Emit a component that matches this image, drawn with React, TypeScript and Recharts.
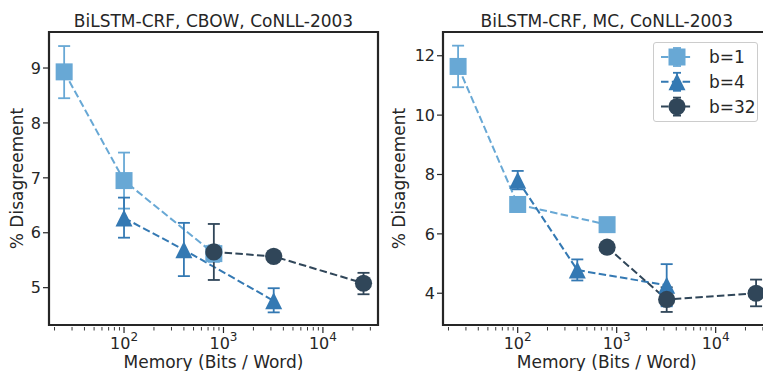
import React from "react";
import { ErrorBar, Legend, Line, LineChart, ReferenceArea, XAxis, YAxis } from "recharts";

// memory (bits per word) of each bit-width series
const bitsB1 = [25, 100, 800];
const bitsB4 = [100, 400, 3200];
const bitsB32 = [800, 3200, 25600];

// BiLSTM-CRF, CBOW
const cbowB1 = [8.93, 6.95, 5.62];
const cbowB1Lo = [8.45, 6.44, 5.47];
const cbowB1Hi = [9.4, 7.46, 5.77];
const cbowB4 = [6.27, 5.69, 4.76];
const cbowB4Lo = [5.91, 5.21, 4.55];
const cbowB4Hi = [6.64, 6.18, 4.99];
const cbowB32 = [5.65, 5.57, 5.08];
const cbowB32Lo = [5.14, 5.5, 4.88];
const cbowB32Hi = [6.16, 5.64, 5.27];

// BiLSTM-CRF, MC
const mcB1 = [11.64, 6.99, 6.31];
const mcB1Lo = [10.94, 6.85, 6.2];
const mcB1Hi = [12.34, 7.13, 6.42];
const mcB4 = [7.81, 4.78, 4.27];
const mcB4Lo = [7.5, 4.43, 3.56];
const mcB4Hi = [8.12, 5.14, 4.98];
const mcB32 = [5.55, 3.79, 4.0];
const mcB32Lo = [5.45, 3.37, 3.56];
const mcB32Hi = [5.65, 4.2, 4.46];

const xDomain: [number, number] = [17.6, 35800];
const xTicks = [
  20, 30, 40, 50, 60, 70, 80, 90, 100, 200, 300, 400, 500, 600, 700, 800, 900,
  1000, 2000, 3000, 4000, 5000, 6000, 7000, 8000, 9000, 10000, 20000, 30000,
];
const cbowYTicks = [5, 6, 7, 8, 9];
const mcYTicks = [4, 6, 8, 10, 12];

const seriesNames = ["b=1", "b=4", "b=32"];
const colors = ["#68a8d5", "#3479b3", "#304659"];
const shapes = ["square", "triangle", "circle"];

const INK = "#262626";
const FONT = '"DejaVu Sans", sans-serif';

const rows = (xs: number[], ys: number[], lo: number[], hi: number[]) =>
  xs.map((x, i) => ({ x, y: ys[i], err: [ys[i] - lo[i], hi[i] - ys[i]] }));

const cbowSeries = [
  rows(bitsB1, cbowB1, cbowB1Lo, cbowB1Hi),
  rows(bitsB4, cbowB4, cbowB4Lo, cbowB4Hi),
  rows(bitsB32, cbowB32, cbowB32Lo, cbowB32Hi),
];
const mcSeries = [
  rows(bitsB1, mcB1, mcB1Lo, mcB1Hi),
  rows(bitsB4, mcB4, mcB4Lo, mcB4Hi),
  rows(bitsB32, mcB32, mcB32Lo, mcB32Hi),
];

function Marker({ cx, cy, shape, color }: { cx: number; cy: number; shape: string; color: string }) {
  if (shape === "square") return <rect x={cx - 8.5} y={cy - 8.5} width={17} height={17} fill={color} />;
  if (shape === "triangle")
    return <polygon points={`${cx},${cy - 8.5} ${cx - 8.5},${cy + 8.5} ${cx + 8.5},${cy + 8.5}`} fill={color} />;
  return <circle cx={cx} cy={cy} r={8.6} fill={color} />;
}

const dotFor = (shape: string, color: string) => (p: any) => {
  if (p.cx == null || p.cy == null) return <g key={p.index} />;
  return (
    <g key={`dot-${p.index}`}>
      <Marker cx={p.cx} cy={p.cy} shape={shape} color={color} />
    </g>
  );
};

function LogTick(props: any) {
  const { x, y, payload } = props;
  const exp = Math.log10(payload.value);
  const major = Math.abs(exp - Math.round(exp)) < 1e-6;
  return (
    <g>
      <line x1={x} x2={x} y1={y} y2={y + (major ? 6 : 3.5)} stroke={INK} strokeWidth={major ? 1.2 : 0.9} />
      {major && (
        <text x={x} y={y + 21.5} textAnchor="middle" fontSize={16} fill={INK} fontFamily={FONT}>
          10
          <tspan dy={-7.4} fontSize={12}>
            {Math.round(exp)}
          </tspan>
        </text>
      )}
    </g>
  );
}

function LegendBox() {
  return (
    <div
      style={{
        width: 105,
        height: 80,
        boxSizing: "border-box",
        background: "rgba(255,255,255,0.8)",
        border: "1px solid #cccccc",
        borderRadius: 3,
      }}
    >
      <svg width={103} height={78}>
        {seriesNames.map((name, i) => {
          const cy = 14 + i * 24.8;
          return (
            <g key={name}>
              <line x1={7} x2={39} y1={cy} y2={cy} stroke={colors[i]} strokeWidth={2} strokeDasharray="7.5 3.3" />
              <line x1={23} x2={23} y1={cy - 9} y2={cy + 9} stroke={colors[i]} strokeWidth={1.8} />
              <line x1={19} x2={27} y1={cy - 9} y2={cy - 9} stroke={colors[i]} strokeWidth={1.8} />
              <line x1={19} x2={27} y1={cy + 9} y2={cy + 9} stroke={colors[i]} strokeWidth={1.8} />
              <Marker cx={23} cy={cy} shape={shapes[i]} color={colors[i]} />
              <text x={55} y={cy + 6} fontSize={17} fill={INK} fontFamily={FONT}>
                {name}
              </text>
            </g>
          );
        })}
      </svg>
    </div>
  );
}

interface PanelProps {
  title: string;
  series: { x: number; y: number; err: number[] }[][];
  yDomain: [number, number];
  yTicks: number[];
  yAxisWidth: number;
  marginRight: number;
  yLabelX: number;
  showLegend?: boolean;
}

function Panel({ title, series, yDomain, yTicks, yAxisWidth, marginRight, yLabelX, showLegend }: PanelProps) {
  const width = 390;
  const plotW = width - yAxisWidth - marginRight;
  return (
    <div style={{ position: "relative", width, height: 371 }}>
      <div
        style={{
          position: "absolute",
          left: yAxisWidth,
          top: 11,
          width: plotW,
          textAlign: "center",
          fontSize: 17,
          lineHeight: "20px",
          color: INK,
          fontFamily: FONT,
          whiteSpace: "nowrap",
        }}
      >
        {title}
      </div>
      <LineChart width={width} height={371} margin={{ top: 32, right: marginRight, bottom: 0, left: 0 }}>
        <XAxis
          dataKey="x"
          type="number"
          scale="log"
          domain={xDomain}
          allowDataOverflow
          ticks={xTicks}
          interval={0}
          tickSize={0}
          tickLine={false}
          axisLine={false}
          height={46}
          tick={(p: any) => <LogTick {...p} />}
          label={(p: any) => {
            const vb = p.viewBox;
            return (
              <text
                x={vb.x + vb.width / 2}
                y={vb.y + 42.5}
                textAnchor="middle"
                fontSize={17}
                fill={INK}
                fontFamily={FONT}
              >
                Memory (Bits / Word)
              </text>
            );
          }}
        />
        <YAxis
          type="number"
          domain={yDomain}
          allowDataOverflow
          ticks={yTicks}
          interval={0}
          width={yAxisWidth}
          axisLine={false}
          tickSize={6}
          tickMargin={2}
          tickLine={{ stroke: INK, strokeWidth: 1.2 }}
          tick={{ fill: INK, fontSize: 16, fontFamily: FONT }}
          label={(p: any) => {
            const vb = p.viewBox;
            const cy = vb.y + vb.height / 2;
            return (
              <text
                x={yLabelX}
                y={cy}
                transform={`rotate(-90, ${yLabelX}, ${cy})`}
                textAnchor="middle"
                fontSize={17}
                fill={INK}
                fontFamily={FONT}
              >
                % Disagreement
              </text>
            );
          }}
        />
        <ReferenceArea
          x1={xDomain[0]}
          x2={xDomain[1]}
          y1={yDomain[0]}
          y2={yDomain[1]}
          ifOverflow="visible"
          fill="none"
          fillOpacity={0}
          stroke={INK}
          strokeWidth={2.2}
        />
        {series.map((data, i) => (
          <Line
            key={seriesNames[i]}
            data={data}
            dataKey="y"
            name={seriesNames[i]}
            type="linear"
            stroke={colors[i]}
            strokeWidth={2}
            strokeDasharray="7.5 3.3"
            dot={dotFor(shapes[i], colors[i])}
            activeDot={false}
            isAnimationActive={false}
          >
            <ErrorBar
              dataKey="err"
              direction="y"
              width={6}
              stroke={colors[i]}
              strokeWidth={1.8}
              isAnimationActive={false}
            />
          </Line>
        ))}
        {showLegend && (
          <Legend
            layout="vertical"
            align="center"
            verticalAlign="middle"
            content={() => <LegendBox />}
            wrapperStyle={{ position: "absolute", left: 263, top: 42, width: 105, height: 80 }}
          />
        )}
      </LineChart>
    </div>
  );
}

export default function App() {
  return (
    <div
      style={{
        position: "absolute",
        left: 0,
        top: 0,
        width: 763,
        height: 371,
        overflow: "hidden",
        background: "#ffffff",
      }}
    >
      <div style={{ position: "absolute", left: 0, top: 0 }}>
        <Panel
          title="BiLSTM-CRF, CBOW, CoNLL-2003"
          series={cbowSeries}
          yDomain={[4.32, 9.656]}
          yTicks={cbowYTicks}
          yAxisWidth={49}
          marginRight={12}
          yLabelX={22.7}
        />
      </div>
      <div style={{ position: "absolute", left: 390, top: 0 }}>
        <Panel
          title="BiLSTM-CRF, MC, CoNLL-2003"
          series={mcSeries}
          yDomain={[2.93, 12.8]}
          yTicks={mcYTicks}
          yAxisWidth={53}
          marginRight={9.5}
          yLabelX={15}
          showLegend
        />
      </div>
    </div>
  );
}
